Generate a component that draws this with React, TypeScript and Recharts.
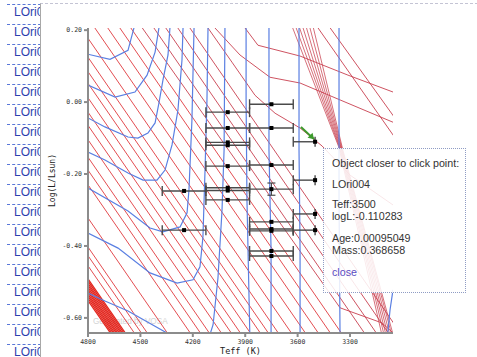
import React from 'react';
import { ComposedChart, Line, Scatter, XAxis, YAxis, ErrorBar } from 'recharts';

// axes
const teffTicks = [4800, 4500, 4200, 3900, 3600, 3300];
const logLTicks = [0.2, 0, -0.2, -0.4, -0.6];
const teffDomain = [3054, 4800];
const logLDomain = [-0.642, 0.206];

// isochrones, [Teff, logL] vertices
const oldIsochrones: number[][][] = [
  [[5987, 0.283], [4565, -0.717]],
  [[5978, 0.283], [4557, -0.717]],
  [[5969, 0.283], [4548, -0.717]],
  [[5961, 0.283], [4540, -0.717]],
  [[5952, 0.283], [4531, -0.717]],
  [[5944, 0.283], [4523, -0.717]],
  [[5935, 0.283], [4514, -0.717]],
  [[5926, 0.283], [4505, -0.717]],
  [[5918, 0.283], [4497, -0.717]],
  [[5909, 0.283], [4488, -0.717]],
  [[5901, 0.283], [4480, -0.717]],
];

const isochrones: number[][][] = [
  [[5849, 0.283], [4428, -0.717]],
  [[5809, 0.283], [4388, -0.717]],
  [[5775, 0.283], [4354, -0.717]],
  [[5660, 0.283], [4239, -0.717]],
  [[5529, 0.283], [4108, -0.717]],
  [[5471, 0.283], [4050, -0.717]],
  [[5420, 0.283], [3999, -0.717]],
  [[5351, 0.283], [3930, -0.717]],
  [[5294, 0.283], [3873, -0.717]],
  [[5242, 0.283], [3821, -0.717]],
  [[5185, 0.283], [3764, -0.717]],
  [[5128, 0.283], [3707, -0.717]],
  [[5082, 0.283], [3661, -0.717]],
  [[5025, 0.283], [3604, -0.717]],
  [[4950, 0.283], [3529, -0.717]],
  [[4870, 0.283], [3449, -0.717]],
  [[4796, 0.283], [3375, -0.717]],
  [[4727, 0.283], [3306, -0.717]],
  [[4664, 0.283], [3243, -0.717]],
];

const youngIsochrones: number[][][] = [
  [[4601, 0.283], [3357, -0.572], [3117, -0.614], [3042, -0.647]],
  [[4532, 0.283], [3111, -0.717]],
  [[4464, 0.283], [3043, -0.717]],
  [[4395, 0.283], [2974, -0.717]],
  [[4326, 0.283], [2905, -0.717]],
  [[4159, 0.242], [4113, 0.206], [3976, 0.111], [3844, 0.019], [3729, -0.031], [3586, -0.072], [3460, -0.122], [3300, -0.203], [3054, -0.286]],
  [[4119, 0.242], [4073, 0.206], [3930, 0.131], [3758, 0.069], [3586, 0.053], [3357, 0.006], [3054, -0.056]],
  [[3941, 0.242], [3901, 0.206], [3827, 0.158], [3586, 0.128], [3312, 0.075], [3054, 0.028]],
  [[3506, 0.222], [3014, -0.119]],
  [[3437, 0.222], [3014, -0.064]],
];

const fanIsochrones: number[][][] = [
  [[3632, 0.211], [3365, -0.124], [3120, -0.642]],
  [[3612, 0.211], [3360, -0.126], [3108, -0.642]],
  [[3592, 0.211], [3356, -0.128], [3097, -0.642]],
  [[3572, 0.211], [3352, -0.129], [3086, -0.642]],
  [[3552, 0.211], [3348, -0.131], [3075, -0.642]],
  [[3532, 0.211], [3344, -0.133], [3064, -0.642]],
  [[3512, 0.211], [3340, -0.135], [3056, -0.642]],
];

// evolutionary tracks (blue)
const massTracks: number[][][] = [
  [[4903, 0.144], [4800, 0.133], [4674, 0.119], [4571, 0.144], [4537, 0.206], [4531, 0.256]],
  [[4903, 0.061], [4800, 0.047], [4645, 0.014], [4531, 0.028], [4462, 0.075], [4416, 0.139], [4394, 0.206], [4388, 0.256]],
  [[4903, -0.022], [4800, -0.044], [4703, -0.069], [4571, -0.097], [4514, -0.1], [4457, -0.086], [4416, -0.058], [4394, -0.003], [4371, 0.061], [4342, 0.131], [4331, 0.206], [4325, 0.256]],
  [[4903, -0.119], [4800, -0.139], [4703, -0.161], [4571, -0.197], [4485, -0.217], [4405, -0.217], [4359, -0.189], [4319, -0.119], [4285, -0.022], [4262, 0.117], [4256, 0.206], [4256, 0.256]],
  [[4903, -0.217], [4800, -0.239], [4571, -0.303], [4445, -0.35], [4371, -0.361], [4273, -0.347], [4233, -0.308], [4222, -0.244], [4205, -0.05], [4193, 0.206], [4193, 0.256]],
  [[4903, -0.342], [4800, -0.364], [4628, -0.406], [4445, -0.475], [4290, -0.503], [4199, -0.494], [4159, -0.458], [4142, -0.375], [4130, -0.189], [4119, 0.006], [4113, 0.206], [4113, 0.256]],
  [[4903, -0.522], [4800, -0.531], [4703, -0.553], [4571, -0.581], [4348, -0.642], [4245, -0.689], [4130, -0.689], [4084, -0.619], [4056, -0.489], [4033, -0.303], [4021, -0.133], [4016, 0.206], [4016, 0.256]],
  [[3895, 0.256], [3895, 0.006], [3890, -0.272], [3873, -0.661]],
  [[3764, 0.256], [3764, -0.133], [3752, -0.411], [3752, -0.661]],
  [[3592, 0.256], [3592, -0.133], [3586, -0.411], [3586, -0.661]],
  [[3363, 0.256], [3363, -0.272], [3357, -0.661]],
  [[3054, -0.522], [3071, -0.578], [3088, -0.661]],
];

// observed objects
const pointTeff = [3750, 4000, 4000, 3750, 4000, 4000, 3500, 4000, 3750, 3500, 4250, 4000, 4000, 3750, 4000, 3500, 3750, 3750, 3750, 3500, 4250, 3750, 3750];
const pointLogL = [-0.006, -0.028, -0.072, -0.072, -0.112, -0.12, -0.110283, -0.178, -0.175, -0.217, -0.247, -0.238, -0.246, -0.242, -0.272, -0.311, -0.333, -0.353, -0.358, -0.356, -0.356, -0.414, -0.428];
const teffErrLow = [125, 125, 125, 125, 125, 125, 0, 125, 125, 0, 125, 125, 125, 125, 125, 0, 125, 125, 125, 0, 125, 125, 125];
const teffErrHigh = [125, 125, 125, 125, 125, 125, 125, 125, 125, 125, 125, 125, 125, 125, 125, 125, 125, 125, 125, 125, 125, 125, 125];
const logLErr = [0, 0, 0, 0, 0, 0, 0, 0, 0, 0, 0, 0, 0, 0.017, 0, 0, 0, 0, 0, 0, 0, 0, 0];

// arrow to clicked object
const arrowTeff = [3581, 3506];
const arrowLogL = [-0.069, -0.103];

const objectNames = ['LOri001', 'LOri002', 'LOri003', 'LOri004', 'LOri005', 'LOri006', 'LOri007', 'LOri008', 'LOri009', 'LOri010', 'LOri011', 'LOri012', 'LOri013', 'LOri014', 'LOri015', 'LOri016', 'LOri017', 'LOri018'];

const selName = 'LOri004';
const selTeff = '3500';
const selLogL = '-0.110283';
const selAge = '0.00095049';
const selMass = '0.368658';

const toPts = (v: number[][]) => v.map(([x, y]) => ({ x, y }));

const points = pointTeff.map((x, i) => ({
  x,
  y: pointLogL[i],
  ex: [teffErrLow[i], teffErrHigh[i]],
  ey: logLErr[i],
}));
const arrowData = arrowTeff.map((x, i) => ({ x, y: arrowLogL[i] }));

const mono = '"DejaVu Sans Mono", monospace';
const sans = '"Liberation Sans", Arial, sans-serif';
const AX = { xAxisId: 'b', yAxisId: 'l' };

const square = (p: any) => <rect x={p.cx - 2} y={p.cy - 2} width={4} height={4} fill="#000" />;

const arrowHead = (p: any) =>
  p.index === 1 ? (
    <polygon key="head" points={`${p.cx},${p.cy} ${p.cx - 6.5},${p.cy - 1.5} ${p.cx - 1.5},${p.cy - 6.5}`} fill="#3c9a2c" />
  ) : (
    <g key={`d${p.index}`} />
  );

const yLabel = (p: any) => {
  const vb = p.viewBox || { x: 48, y: 28, width: 40, height: 305 };
  const x = vb.x + 4;
  const y = vb.y + vb.height / 2;
  return (
    <text x={x} y={y} transform={`rotate(-90 ${x} ${y})`} textAnchor="middle" dominantBaseline="central" fontSize={8} fontFamily={mono} fill="#222">
      Log(L/Lsun)
    </text>
  );
};

export default function App() {
  return (
    <div style={{ position: 'absolute', left: 0, top: 0, width: 477, height: 357, overflow: 'hidden', background: '#fff', fontFamily: sans }}>
      <div style={{ position: 'absolute', left: 7, top: 4, width: 60 }}>
        {objectNames.map((n) => (
          <div key={n} style={{ height: 20, boxSizing: 'border-box', borderTop: '1px dashed #5a78d8', paddingLeft: 7, fontSize: 12, lineHeight: '15px', color: '#2e3fae' }}>
            {n}
          </div>
        ))}
      </div>
      <div style={{ position: 'absolute', left: 40, top: 3, width: 437, height: 354, background: '#fff', borderLeft: '1px solid #a8a8a8', borderTop: '1px dashed #c4c4d4' }} />
      <div style={{ position: 'absolute', left: 93, top: 316, fontSize: 8.2, lineHeight: '12px', color: '#d4d4d4' }}>Generated by VOSA</div>
      <div style={{ position: 'absolute', left: 0, top: 0 }}>
        <ComposedChart width={477} height={357} margin={{ top: 28, right: 84, bottom: 4, left: 48 }}>
          <XAxis
            xAxisId="b"
            type="number"
            dataKey="x"
            domain={teffDomain}
            reversed
            allowDataOverflow
            ticks={teffTicks}
            interval={0}
            height={20}
            stroke="#8c8c8c"
            strokeWidth={2}
            tickSize={4}
            tickMargin={2}
            tick={{ fontSize: 6.5, fill: '#333', fontFamily: mono }}
            label={{ value: 'Teff (K)', position: 'insideBottom', offset: -1, fontSize: 8.5, fontFamily: mono, fill: '#222' }}
          />
          <XAxis
            xAxisId="t"
            orientation="top"
            type="number"
            domain={teffDomain}
            reversed
            allowDataOverflow
            height={0}
            tick={false}
            tickLine={false}
            stroke="#999"
            strokeWidth={1.5}
            label={{ value: 'siess', position: 'top', offset: 7, fontSize: 8.5, fontFamily: mono, fill: '#222' }}
          />
          <YAxis
            yAxisId="l"
            type="number"
            dataKey="y"
            domain={logLDomain}
            allowDataOverflow
            ticks={logLTicks}
            interval={0}
            width={40}
            stroke="#8c8c8c"
            strokeWidth={2}
            tickSize={4}
            tickMargin={2}
            tickFormatter={(v: number) => v.toFixed(2)}
            tick={{ fontSize: 6.5, fill: '#333', fontFamily: mono }}
            label={{ content: yLabel }}
          />
          <YAxis
            yAxisId="r"
            orientation="right"
            type="number"
            domain={logLDomain}
            allowDataOverflow
            width={0}
            tick={false}
            tickLine={false}
            stroke="#999"
            strokeWidth={1.5}
          />
          {oldIsochrones.map((v, i) => (
            <Line key={`o${i}`} {...AX} data={toPts(v)} dataKey="y" type="linear" stroke="#e3271f" strokeWidth={1.3} dot={false} activeDot={false} isAnimationActive={false} />
          ))}
          {isochrones.map((v, i) => (
            <Line key={`i${i}`} {...AX} data={toPts(v)} dataKey="y" type="linear" stroke="#e0393d" strokeWidth={0.9} dot={false} activeDot={false} isAnimationActive={false} />
          ))}
          {youngIsochrones.map((v, i) => (
            <Line key={`y${i}`} {...AX} data={toPts(v)} dataKey="y" type="linear" stroke="#c8404f" strokeWidth={0.9} dot={false} activeDot={false} isAnimationActive={false} />
          ))}
          {fanIsochrones.map((v, i) => (
            <Line key={`f${i}`} {...AX} data={toPts(v)} dataKey="y" type="linear" stroke="#c8404f" strokeWidth={0.75} dot={false} activeDot={false} isAnimationActive={false} />
          ))}
          {massTracks.map((v, i) => (
            <Line key={`m${i}`} {...AX} data={toPts(v)} dataKey="y" type="linear" stroke="#5a7fe2" strokeWidth={1.2} dot={false} activeDot={false} isAnimationActive={false} />
          ))}
          <Scatter {...AX} data={points} shape={square} isAnimationActive={false}>
            <ErrorBar dataKey="ex" direction="x" width={5} stroke="#4a4a4a" strokeWidth={1.4} />
            <ErrorBar dataKey="ey" direction="y" width={4} stroke="#4a4a4a" strokeWidth={1.2} />
          </Scatter>
          <Line {...AX} data={arrowData} dataKey="y" type="linear" stroke="#3c9a2c" strokeWidth={2} dot={arrowHead} activeDot={false} isAnimationActive={false} />
        </ComposedChart>
      </div>
      <div
        style={{
          position: 'absolute',
          left: 323,
          top: 148,
          width: 143,
          height: 145,
          boxSizing: 'border-box',
          border: '1px dotted #8f9cc4',
          background: 'rgba(255,255,255,0.86)',
          padding: '8px 0 0 8px',
          fontSize: 10.7,
          lineHeight: '12px',
          color: '#333',
        }}
      >
        <div>Object closer to click point:</div>
        <div style={{ marginTop: 9 }}>{selName}</div>
        <div style={{ marginTop: 8 }}>
          Teff:{selTeff}
          <br />
          logL:{selLogL}
        </div>
        <div style={{ marginTop: 10 }}>
          Age:{selAge}
          <br />
          Mass:{selMass}
        </div>
        <div style={{ marginTop: 10, color: '#5a4cc2' }}>close</div>
      </div>
    </div>
  );
}
